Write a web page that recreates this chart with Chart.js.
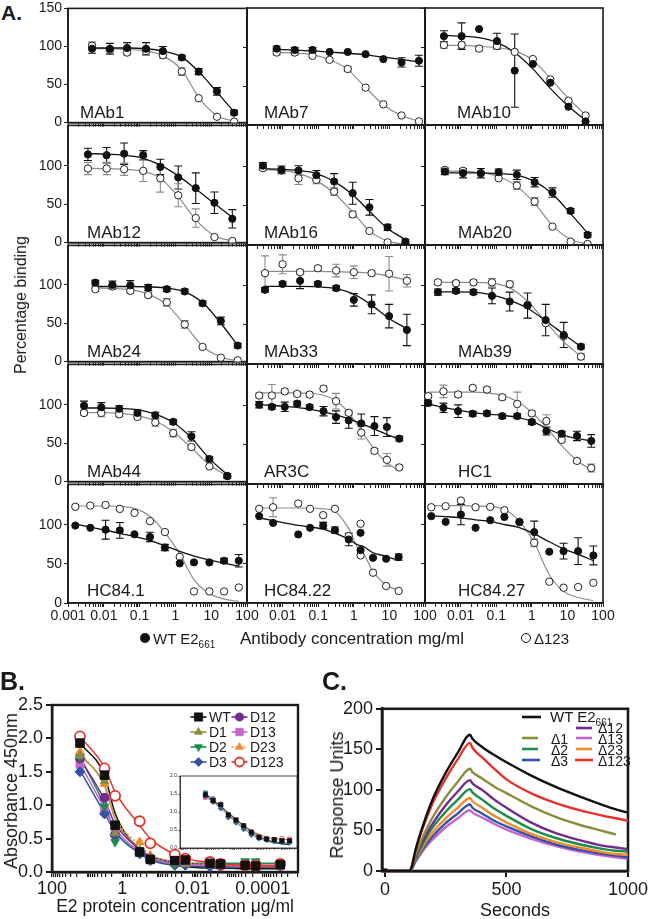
<!DOCTYPE html>
<html><head><meta charset="utf-8">
<script src="https://cdn.jsdelivr.net/npm/chart.js"></script>
<style>
html,body{margin:0;padding:0;background:#fff;}
body{width:650px;height:919px;position:relative;overflow:hidden;font-family:"Liberation Sans",Arial,Helvetica,sans-serif;color:#1a1a1a;}
canvas{position:absolute;}
.t{position:absolute;white-space:nowrap;}
.dot{position:absolute;border-radius:50%;box-sizing:border-box;}
</style></head><body>
<script>
// ================= PANEL A DATA (concentration mg/ml, % binding) =================
const aTickLabels = ['0.001','0.01','0.1','1','10','100'];
const aYTicks = [0, 50, 100, 150];
const panelNames = ['MAb1','MAb7','MAb10','MAb12','MAb16','MAb20','MAb24','MAb33','MAb39','MAb44','AR3C','HC1','HC84.1','HC84.22','HC84.27'];

const mab1Conc = [0.0047, 0.0148, 0.0447, 0.151, 0.447, 1.51, 4.47, 14.5, 43.7];
const mab1Wt = [97, 97, 98, 97, 94, 85.5, 67, 41, 13];
const mab1WtErr = [6, 7, 7, 8, 6, 3, 4, 5, 3];
const mab1D123 = [101, 96, 92, 94, 88.5, 67, 32, 7.7, 1.3];
const mab1D123Err = [5, 3, 3, 5, 4, 5, 0, 0, 0];
const mab1WtFit = [98, 98, 98, 97, 94, 86, 67, 40, 14];
const mab1D123Fit = [97, 97, 96, 94, 88, 69, 33, 9, 2];

const mab7Conc = [0.0068, 0.0219, 0.0692, 0.209, 0.676, 2.14, 6.76, 21.9, 67.6];
const mab7Wt = [97.9, 96.2, 96.2, 93.7, 93.7, 90.8, 84.5, 80.3, 82.4];
const mab7WtErr = [3, 3, 3, 0, 0, 0, 0, 6, 7];
const mab7D123 = [92.9, 92.9, 88.7, 83.6, 71.8, 47.9, 26.5, 12.2, 4.6];
const mab7D123Err = [3, 3, 0, 0, 3, 0, 0, 0, 0];
const mab7WtFit = [97, 96, 95, 93.5, 92, 90, 87, 84, 81];
const mab7D123Fit = [93, 92.5, 90, 84, 71, 48, 26, 12, 5];

const mab10Conc = [0.0034, 0.0107, 0.0331, 0.105, 0.331, 1.07, 3.31, 10.7, 32.4];
const mab10Wt = [113.9, 113.9, 123, 107.6, 69.7, 78.2, 54.2, 23.5, 4.6];
const mab10WtErr = [7, 17, 0, 10, 47, 0, 0, 0, 0];
const mab10D123 = [102.5, 102.5, 97.9, 101.3, 93.7, 84.5, 58.4, 31.1, 12.2];
const mab10D123Err = [4, 4, 3, 3, 0, 0, 0, 0, 0];
const mab10WtFit = [115, 114, 112, 106, 93, 72, 47, 24, 6];
const mab10D123Fit = [102, 102, 101, 99, 95, 83, 60, 34, 13];

const mab12Conc = [0.0036, 0.012, 0.037, 0.126, 0.38, 1.2, 3.7, 12.3, 38.9];
const mab12Wt = [115, 114, 116, 114, 98.7, 85, 71, 52, 31];
const mab12WtErr = [8, 10, 14, 6, 10, 15, 20, 14, 12];
const mab12D123 = [96.6, 96.6, 95.7, 93.6, 83.8, 61.7, 32, 7.2, 2.1];
const mab12D123Err = [8, 8, 8, 14, 18, 15, 12, 0, 0];
const mab12WtFit = [116, 115.5, 114, 110, 101, 87, 70, 51, 33];
const mab12D123Fit = [97, 96.5, 95.5, 93, 84, 60, 30, 9, 2];

const mab16Conc = [0.0028, 0.0093, 0.028, 0.089, 0.28, 0.93, 2.75, 8.9, 28.2];
const mab16Wt = [101, 95.7, 94.9, 89, 80.9, 66, 48, 22.5, 4.3];
const mab16WtErr = [4, 5, 6, 6, 10, 14, 10, 4, 3];
const mab16D123 = [97.9, 94.9, 85, 83, 68, 39, 17.9, 3.4, 1.3];
const mab16D123Err = [3, 3, 8, 5, 5, 4, 0, 0, 0];
const mab16WtFit = [97, 96.5, 95, 91, 81, 64, 43, 21, 7];
const mab16D123Fit = [96, 95, 91, 82, 66, 42, 18, 5, 1];

const mab20Conc = [0.0036, 0.0117, 0.037, 0.117, 0.38, 1.2, 3.8, 12.3, 37];
const mab20Wt = [93.6, 91.5, 91.5, 92.8, 89.4, 80, 66.8, 43.4, 12.8];
const mab20WtErr = [4, 6, 6, 4, 6, 6, 6, 3, 3];
const mab20D123 = [95.7, 94.5, 91.5, 85, 75.7, 55.3, 23.4, 4.3, 1.3];
const mab20D123Err = [3, 0, 0, 0, 5, 5, 0, 0, 0];
const mab20WtFit = [92, 92, 92, 91, 89, 81, 65, 40, 15];
const mab20D123Fit = [94, 94, 92, 87, 75, 53, 25, 7, 1];

const mab24Conc = [0.0058, 0.0174, 0.055, 0.174, 0.575, 1.82, 5.75, 18.6, 55];
const mab24Wt = [103, 100, 99.6, 96.6, 94.5, 91.5, 76, 53, 20.9];
const mab24WtErr = [3, 5, 6, 4, 3, 3, 3, 5, 3];
const mab24D123 = [94.5, 97.9, 92.3, 86.8, 77.4, 48.5, 19.1, 5.1, 1.7];
const mab24D123Err = [3, 3, 3, 3, 5, 5, 0, 0, 0];
const mab24WtFit = [98, 98, 98, 97.5, 96, 91, 77, 50, 21];
const mab24D123Fit = [96, 95.5, 94, 88, 74, 48, 20, 6, 1];

const mab33Conc = [0.0032, 0.01, 0.031, 0.098, 0.32, 1.0, 3.16, 9.8, 31];
const mab33Wt = [94.5, 102, 106, 102, 96.6, 81.7, 76, 61, 43.4];
const mab33WtErr = [3, 3, 10, 3, 3, 8, 12, 15, 20];
const mab33D123 = [115.7, 127, 117, 122, 119, 117, 115.7, 115, 106];
const mab33D123Err = [22, 12, 3, 3, 8, 8, 3, 22, 8];
const mab33WtFit = [99, 99, 99, 98.5, 96, 89, 75, 58, 45];
const mab33D123Fit = [118, 118, 118, 118, 117.5, 117, 115.5, 112, 107];

const mab39Conc = [0.0023, 0.0074, 0.023, 0.076, 0.24, 0.76, 2.45, 7.9, 24];
const mab39Wt = [91.5, 93.2, 91.5, 86.8, 79.6, 74.5, 56, 37, 22.1];
const mab39WtErr = [4, 3, 3, 10, 12, 16, 20, 16, 3];
const mab39D123 = [104, 103, 104, 104, 101.7, 75.3, 52, 35.7, 9.4];
const mab39D123Err = [3, 3, 3, 5, 4, 0, 0, 0, 4];
const mab39WtFit = [92, 92, 91.5, 88, 81, 71, 55, 38, 22];
const mab39D123Fit = [104, 104, 104, 103, 97, 80, 54, 28, 10];

const mab44Conc = [0.0028, 0.0085, 0.027, 0.087, 0.275, 0.87, 2.8, 8.9, 28.2];
const mab44Wt = [99, 97, 95, 89.5, 86.5, 78, 59, 29.5, 7.2];
const mab44WtErr = [6, 6, 4, 4, 4, 3, 6, 3, 3];
const mab44D123 = [89.5, 89.5, 87.8, 84.4, 77.2, 63.3, 45.1, 19.8, 7.2];
const mab44D123Err = [3, 5, 3, 3, 5, 5, 3, 0, 0];
const mab44WtFit = [96, 96, 95.5, 94, 88, 77, 57, 30, 9];
const mab44D123Fit = [90, 90, 89, 86, 79, 65, 44, 22, 7];

const ar3cConc = [0.0022, 0.005, 0.0115, 0.0257, 0.0575, 0.141, 0.316, 0.72, 1.62, 3.8, 8.5, 19];
const ar3cWt = [101, 98.3, 98.3, 102.5, 97.9, 92.8, 85.2, 81, 77.2, 73.8, 72.6, 57.8];
const ar3cWtErr = [4, 3, 6, 3, 3, 6, 8, 10, 12, 12, 12, 3];
const ar3cD123 = [112.7, 112.7, 118, 114.8, 113.9, 121.5, 105.5, 90.7, 65.4, 42.2, 30.8, 21.1];
const ar3cD123Err = [3, 14, 3, 3, 3, 3, 10, 3, 8, 3, 8, 3];
const ar3cWtFit = [101, 100, 99, 97.5, 95.5, 92, 88, 83, 77, 70, 63, 57];
const ar3cD123Fit = [116, 116, 116, 116, 115.5, 113, 106, 91, 68, 44, 27, 17];

const hc1Conc = [0.00123, 0.0033, 0.0085, 0.0219, 0.055, 0.148, 0.39, 1.0, 2.57, 6.9, 18.6, 46.8];
const hc1Wt = [103, 97, 92.8, 89.5, 89.9, 86.5, 86.5, 78.9, 67.5, 64.1, 61.2, 54.9];
const hc1WtErr = [3, 6, 8, 3, 3, 3, 3, 3, 5, 3, 6, 8];
const hc1D123 = [111.8, 118, 114, 122.4, 120.3, 110.5, 102, 89.9, 80.2, 56.1, 29.5, 20.3];
const hc1D123Err = [3, 8, 3, 3, 3, 3, 15, 3, 8, 3, 3, 5];
const hc1WtFit = [102, 97.5, 94, 91, 89, 87.5, 85, 80, 71, 63, 58, 55];
const hc1D123Fit = [117, 117, 117, 117, 116, 113, 105, 91, 72, 49, 30, 18];

const hc841Conc = [0.0016, 0.0042, 0.0112, 0.028, 0.072, 0.195, 0.51, 1.32, 3.3, 8.9, 22.9, 58.9];
const hc841Wt = [99, 96.2, 93.7, 92.8, 87.8, 84.4, 70.9, 50.6, 51.9, 51.9, 54, 54];
const hc841WtErr = [0, 0, 12, 10, 0, 6, 4, 0, 0, 0, 3, 8];
const hc841D123 = [123, 124.5, 125.3, 120.3, 115.2, 104.6, 90.7, 59, 14.8, 14.8, 14.8, 19.8];
const hc841D123Err = [0, 0, 0, 0, 0, 0, 0, 0, 0, 0, 0, 0];
const hc841WtFit = [101, 97, 93, 89, 85, 80, 73, 66, 60, 55, 51, 47];
const hc841D123Fit = [124, 124, 124, 123.5, 121, 111, 90, 63, 30, 12, 5, 2];

const hc8422Conc = [0.0022, 0.0054, 0.0275, 0.059, 0.138, 0.295, 0.72, 1.55, 1.55, 3.47, 8.1, 18.2];
const hc8422Wt = [110.6, 102, 87.3, 95.8, 98.7, 92.8, 80.9, 89.4, 67.4, 57.6, 56.4, 58.5];
const hc8422WtErr = [0, 0, 0, 0, 4, 4, 8, 0, 0, 0, 0, 4];
const hc8422D123 = [120, 122, 126.7, 120, 111.9, 120, 85.2, 101, 60.6, 38.6, 21.6, 15.3];
const hc8422D123Err = [0, 12, 0, 0, 0, 0, 0, 0, 0, 0, 0, 0];
const hc8422WtFit = [108.5, 105, 99, 97, 94, 89, 81, 73, 73, 64, 59.5, 54];
const hc8422D123Fit = [121, 121, 121, 121, 120, 117, 95, 66, 66, 40, 23, 16];

const hc8427Conc = [0.0015, 0.0038, 0.0102, 0.0263, 0.068, 0.17, 0.45, 1.17, 3.1, 7.8, 20, 53.7];
const hc8427Wt = [110.6, 103.4, 112.7, 95.8, 105.5, 109.7, 103, 90.3, 65.3, 66.1, 66.1, 60.6];
const hc8427WtErr = [0, 0, 13, 0, 0, 0, 0, 14, 0, 10, 17, 12];
const hc8427D123 = [122, 123.3, 130.5, 122, 122.5, 118.2, 103.4, 76.7, 27.1, 19.5, 20.3, 25.8];
const hc8427D123Err = [0, 0, 0, 0, 0, 0, 0, 5, 0, 0, 0, 0];
const hc8427WtFit = [111, 110, 108.5, 106, 104, 100, 96, 88, 78, 69, 62, 54];
const hc8427D123Fit = [124, 124, 124, 123.5, 123, 119, 104, 77, 36, 15, 7, 3];

// ================= PANEL B DATA (E2 protein µg/ml, absorbance 450nm) =================
const bTickLabels = ['0.0001', '0.01', '1', '100'];
const bSeriesNames = ['WT', 'D1', 'D2', 'D3', 'D12', 'D13', 'D23', 'D123'];
const bConc = [16, 3.2, 1.6, 0.32, 0.16, 0.032, 0.016, 0.0032, 0.0016, 0.00032, 0.00016, 0.000032];
const bWT   = [1.93, 1.45, 0.70, 0.30, 0.19, 0.17, 0.18, 0.13, 0.12, 0.10, 0.09, 0.11];
const bD1   = [1.74, 1.36, 0.58, 0.32, 0.22, 0.13, 0.12, 0.10, 0.11, 0.12, 0.11, 0.10];
const bD2   = [1.72, 0.98, 0.45, 0.28, 0.18, 0.12, 0.16, 0.16, 0.12, 0.16, 0.16, 0.12];
const bD3   = [1.50, 0.87, 0.56, 0.27, 0.17, 0.10, 0.10, 0.08, 0.08, 0.08, 0.08, 0.09];
const bD12  = [1.70, 1.11, 0.55, 0.30, 0.20, 0.25, 0.18, 0.12, 0.10, 0.10, 0.10, 0.10];
const bD13  = [1.61, 0.93, 0.60, 0.29, 0.18, 0.15, 0.13, 0.12, 0.10, 0.10, 0.09, 0.09];
const bD23  = [1.80, 1.32, 0.62, 0.45, 0.25, 0.14, 0.14, 0.13, 0.12, 0.10, 0.10, 0.10];
const bD123 = [2.03, 1.55, 1.14, 0.76, 0.43, 0.26, 0.20, 0.15, 0.12, 0.10, 0.10, 0.12];
const bWTFit   = [1.93, 1.45, 0.88, 0.32, 0.20, 0.10, 0.08, 0.06, 0.06, 0.05, 0.05, 0.05];
const bD1Fit   = [1.76, 1.30, 0.80, 0.35, 0.22, 0.12, 0.10, 0.08, 0.08, 0.07, 0.07, 0.07];
const bD2Fit   = [1.72, 1.00, 0.62, 0.28, 0.20, 0.14, 0.13, 0.13, 0.13, 0.13, 0.13, 0.13];
const bD3Fit   = [1.52, 0.88, 0.60, 0.28, 0.18, 0.10, 0.09, 0.08, 0.08, 0.08, 0.08, 0.08];
const bD12Fit  = [1.70, 1.08, 0.72, 0.34, 0.24, 0.15, 0.13, 0.11, 0.10, 0.10, 0.10, 0.10];
const bD13Fit  = [1.62, 0.95, 0.65, 0.30, 0.20, 0.12, 0.11, 0.10, 0.10, 0.09, 0.09, 0.09];
const bD23Fit  = [1.80, 1.28, 0.82, 0.40, 0.26, 0.15, 0.13, 0.11, 0.10, 0.10, 0.10, 0.10];
const bD123Fit = [2.03, 1.57, 1.20, 0.70, 0.50, 0.26, 0.20, 0.14, 0.12, 0.10, 0.09, 0.09];

// inset of panel B
const insetConc = [10, 5, 2.5, 1.25, 0.625, 0.3125, 0.156, 0.078, 0.039, 0.0195, 0.0098, 0.0049];
const insetWT   = [1.48, 1.32, 1.21, 0.92, 0.78, 0.62, 0.44, 0.30, 0.25, 0.23, 0.20, 0.20];
const insetD2   = [1.55, 1.35, 1.15, 0.88, 0.72, 0.55, 0.40, 0.30, 0.22, 0.20, 0.18, 0.18];
const insetD3   = [1.45, 1.28, 1.10, 0.85, 0.70, 0.52, 0.36, 0.26, 0.22, 0.18, 0.16, 0.15];
const insetD13  = [1.42, 1.38, 1.18, 0.90, 0.75, 0.58, 0.42, 0.30, 0.24, 0.20, 0.20, 0.22];
const insetD123 = [1.40, 1.30, 1.15, 0.86, 0.74, 0.60, 0.45, 0.32, 0.26, 0.24, 0.26, 0.25];
const insetWTFit   = [1.50, 1.33, 1.17, 0.98, 0.80, 0.62, 0.46, 0.33, 0.23, 0.16, 0.12, 0.09];
const insetD2Fit   = [1.52, 1.34, 1.15, 0.94, 0.75, 0.57, 0.42, 0.30, 0.22, 0.17, 0.14, 0.12];
const insetD3Fit   = [1.46, 1.28, 1.10, 0.90, 0.71, 0.53, 0.38, 0.27, 0.19, 0.14, 0.11, 0.09];
const insetD123Fit = [1.42, 1.29, 1.14, 0.96, 0.79, 0.63, 0.49, 0.38, 0.30, 0.26, 0.24, 0.23];

// ================= PANEL C DATA (seconds, response units) =================
const cTicksX = [0, 500, 1000];
const cTime = [0, 100, 110, 125, 150, 175, 200, 250, 300, 350, 360, 400, 450, 500, 600, 700, 800, 900, 950, 1000];
const cWT   = [0, 0, 5, 25, 50, 72, 91, 121, 146, 168, 163, 153, 143, 134, 118, 104, 92, 81, 76, 72];
const cD123 = [0, 0, 5, 24, 48, 68, 86, 114, 138, 158, 152, 140, 126, 113, 96, 84, 75, 68, 65, 62];
const cD1   = [0, 0, 4, 19, 38, 54, 68, 91, 110, 126, 122, 114, 104, 96, 80, 67, 57, 49, 45, null];
const cD12  = [0, 0, 3, 17, 34, 48, 60, 81, 98, 112, 108, 100, 88, 78, 60, 47, 38, 31, 29, 27];
const cD2   = [0, 0, 3, 15, 30, 44, 55, 73, 88, 101, 97, 88, 77, 68, 52, 41, 33, 27, 25, 24];
const cD23  = [0, 0, 3, 14, 27, 39, 49, 65, 78, 90, 86, 78, 68, 60, 46, 36, 29, 23, 21, 20];
const cD3   = [0, 0, 2, 12, 25, 35, 44, 59, 71, 82, 78, 71, 62, 55, 43, 33, 26, 21, 19, 17];
const cD13  = [0, 0, 2, 11, 22, 32, 40, 54, 65, 75, 72, 66, 58, 51, 40, 31, 24, 19, 17, 15];

// ================= helpers =================
const FONT = '"Liberation Sans", Arial, Helvetica, sans-serif';
Chart.defaults.font.family = FONT;
Chart.defaults.color = '#1a1a1a';
Chart.defaults.animation = false;

const COL = {black:'#111111', grey:'#8a8a8a', red:'#e5322b', olive:'#8d8b3e', purple:'#6f2b8e',
  green:'#1e8c4c', orange:'#f28c28', blue:'#3352a8', magenta:'#c466c8'};

function pts(xs, ys){ return xs.map((x,i)=>({x:x, y:ys[i]})); }
function makeCanvas(left, top, w, h){
  const c = document.createElement('canvas');
  c.width = w; c.height = h;
  c.style.left = left+'px'; c.style.top = top+'px'; c.style.width = w+'px'; c.style.height = h+'px';
  document.body.appendChild(c); return c;
}
function logTicks(e0, e1){
  const t = [];
  for (let e=e0; e<e1; e++) for (let k=1; k<10; k++) t.push({value: +(k*Math.pow(10,e)).toPrecision(6), major: k===1});
  t.push({value: Math.pow(10,e1), major: true});
  return t;
}
function txt(html, x, baseline, size, opt){
  opt = opt || {};
  const d = document.createElement('div');
  d.className = 't';
  d.style.fontSize = size+'px'; d.style.lineHeight = size+'px';
  if (opt.bold) d.style.fontWeight = 'bold';
  d.innerHTML = html;
  d.style.top = (baseline - 0.847*size)+'px';
  d.style.left = x+'px';
  if (opt.align === 'center') d.style.transform = 'translate(-50%,0)';
  document.body.appendChild(d); return d;
}
function rtxt(html, cx, cy, size){
  const d = document.createElement('div');
  d.className = 't';
  d.style.fontSize = size+'px'; d.style.lineHeight = size+'px';
  d.style.left = cx+'px'; d.style.top = cy+'px';
  d.style.transform = 'translate(-50%,-50%) rotate(-90deg)';
  d.innerHTML = html;
  document.body.appendChild(d); return d;
}
function drawMarker(ctx, style, x, y, r, fill, stroke, lw){
  ctx.save(); ctx.fillStyle = fill; ctx.strokeStyle = stroke; ctx.lineWidth = lw || 1;
  ctx.beginPath();
  if (style==='circle') ctx.arc(x, y, r, 0, Math.PI*2);
  else if (style==='rect') ctx.rect(x-r*0.75, y-r*0.75, r*1.5, r*1.5);
  else if (style==='triangle'){ ctx.moveTo(x, y-r); ctx.lineTo(x+r*0.87, y+r*0.5); ctx.lineTo(x-r*0.87, y+r*0.5); ctx.closePath(); }
  else if (style==='triangleDown'){ ctx.moveTo(x, y+r); ctx.lineTo(x+r*0.87, y-r*0.5); ctx.lineTo(x-r*0.87, y-r*0.5); ctx.closePath(); }
  else if (style==='diamond'){ ctx.moveTo(x, y-r); ctx.lineTo(x+r, y); ctx.lineTo(x, y+r); ctx.lineTo(x-r, y); ctx.closePath(); }
  ctx.fill(); if (lw) ctx.stroke(); ctx.restore();
}
const errPlugin = {
  id: 'errbars',
  beforeDatasetsDraw(chart){
    const ctx = chart.ctx, ys = chart.scales.y;
    chart.data.datasets.forEach((ds, i) => {
      if (!ds.err) return;
      const meta = chart.getDatasetMeta(i);
      ctx.save(); ctx.strokeStyle = ds.errColor; ctx.lineWidth = 1.1;
      meta.data.forEach((el, j) => {
        const e = ds.err[j]; if (!e) return;
        const v = ds.data[j].y;
        const y1 = ys.getPixelForValue(v+e), y2 = ys.getPixelForValue(v-e);
        ctx.beginPath();
        ctx.moveTo(el.x, y1); ctx.lineTo(el.x, y2);
        ctx.moveTo(el.x-4, y1); ctx.lineTo(el.x+4, y1);
        ctx.moveTo(el.x-4, y2); ctx.lineTo(el.x+4, y2);
        ctx.stroke();
      });
      ctx.restore();
    });
  }
};
function boxPlugin(w, bg){
  return {
    id: 'box',
    beforeDraw(chart){
      if (!bg) return;
      const a = chart.chartArea, ctx = chart.ctx;
      ctx.save(); ctx.fillStyle = bg; ctx.fillRect(a.left, a.top, a.right-a.left, a.bottom-a.top); ctx.restore();
    },
    beforeDatasetsDraw(chart){
      const a = chart.chartArea, ctx = chart.ctx;
      ctx.save(); ctx.strokeStyle = '#1a1a1a'; ctx.lineWidth = w;
      ctx.strokeRect(a.left, a.top, a.right-a.left, a.bottom-a.top); ctx.restore();
    }
  };
}

// ================= PANEL A =================
const colEdges = [68, 247, 425, 603];
const rowEdges = [8, 125, 245, 364, 484, 603];
const nameOffsets = [12,17,32, 19,17,33, 19,17,33, 19,17,33, 19,17,33];
const panelTable = [
  [mab1Conc, mab1Wt, mab1WtErr, mab1D123, mab1D123Err, mab1WtFit, mab1D123Fit],
  [mab7Conc, mab7Wt, mab7WtErr, mab7D123, mab7D123Err, mab7WtFit, mab7D123Fit],
  [mab10Conc, mab10Wt, mab10WtErr, mab10D123, mab10D123Err, mab10WtFit, mab10D123Fit],
  [mab12Conc, mab12Wt, mab12WtErr, mab12D123, mab12D123Err, mab12WtFit, mab12D123Fit],
  [mab16Conc, mab16Wt, mab16WtErr, mab16D123, mab16D123Err, mab16WtFit, mab16D123Fit],
  [mab20Conc, mab20Wt, mab20WtErr, mab20D123, mab20D123Err, mab20WtFit, mab20D123Fit],
  [mab24Conc, mab24Wt, mab24WtErr, mab24D123, mab24D123Err, mab24WtFit, mab24D123Fit],
  [mab33Conc, mab33Wt, mab33WtErr, mab33D123, mab33D123Err, mab33WtFit, mab33D123Fit],
  [mab39Conc, mab39Wt, mab39WtErr, mab39D123, mab39D123Err, mab39WtFit, mab39D123Fit],
  [mab44Conc, mab44Wt, mab44WtErr, mab44D123, mab44D123Err, mab44WtFit, mab44D123Fit],
  [ar3cConc, ar3cWt, ar3cWtErr, ar3cD123, ar3cD123Err, ar3cWtFit, ar3cD123Fit],
  [hc1Conc, hc1Wt, hc1WtErr, hc1D123, hc1D123Err, hc1WtFit, hc1D123Fit],
  [hc841Conc, hc841Wt, hc841WtErr, hc841D123, hc841D123Err, hc841WtFit, hc841D123Fit],
  [hc8422Conc, hc8422Wt, hc8422WtErr, hc8422D123, hc8422D123Err, hc8422WtFit, hc8422D123Fit],
  [hc8427Conc, hc8427Wt, hc8427WtErr, hc8427D123, hc8427D123Err, hc8427WtFit, hc8427D123Fit]
];

panelTable.forEach((p, idx) => {
  const r = Math.floor(idx/3), c = idx%3;
  const L = colEdges[c], R = colEdges[c+1], T = rowEdges[r], B = rowEdges[r+1];
  const padL = 42, padT = 10, padR = 16, padB = (r===4) ? 26 : 8;
  const W = R-L+padL+padR, H = B-T+padT+padB;
  const cv = makeCanvas(L-padL, T-padT, W, H);
  const ymax = r===0 ? 150 : (B-T)/0.785;
  const yTicks = aYTicks.filter(v => r===0 || v < 150);
  const [conc, wt, wtErr, d123, d123Err, wtFit, d123Fit] = p;
  new Chart(cv, {
    type: 'scatter',
    data: { datasets: [
      {label:'WT E2661', data: pts(conc, wt), err: wtErr, errColor: '#111', backgroundColor: '#111', borderColor: '#111', pointRadius: 3.6, pointBorderWidth: 1, order: 1},
      {label:'Δ123', data: pts(conc, d123), err: d123Err, errColor: '#8c8c8c', backgroundColor: '#fff', borderColor: '#222', pointRadius: 3.7, pointBorderWidth: 1, order: 2},
      {type:'line', label:'WT fit', data: pts(conc, wtFit), borderColor: '#111', borderWidth: 1.3, pointRadius: 0, cubicInterpolationMode: 'monotone', fill: false, order: 3},
      {type:'line', label:'Δ123 fit', data: pts(conc, d123Fit), borderColor: '#8c8c8c', borderWidth: 1.2, pointRadius: 0, cubicInterpolationMode: 'monotone', fill: false, order: 4}
    ]},
    options: {
      responsive: false, animation: false, devicePixelRatio: 1,
      layout: { padding: {left: 0, top: padT, right: padR, bottom: 0} },
      plugins: { legend: {display: false}, tooltip: {enabled: false} },
      scales: {
        x: {
          type: 'logarithmic', min: 0.001, max: 100,
          afterBuildTicks: s => { s.ticks = logTicks(-3, 2); },
          afterFit: s => { s.height = padB; },
          grid: { display: true, drawOnChartArea: false, drawTicks: true, tickLength: 4, color: '#222', lineWidth: 1 },
          border: { display: true, color: '#1a1a1a', width: 1.6 },
          ticks: { display: r===4, autoSkip: false, maxRotation: 0, minRotation: 0, padding: 1, color: '#1a1a1a', font: {size: 14},
            callback: (v) => { const e = Math.round(Math.log10(v)); if (Math.abs(v - Math.pow(10,e)) > 1e-9*Math.pow(10,e)) return ''; if (c>0 && e===-3) return ''; return aTickLabels[e+3]; } }
        },
        y: {
          min: 0, max: ymax,
          afterBuildTicks: s => { s.ticks = yTicks.map(v => ({value: v})); },
          afterFit: s => { s.width = padL; },
          grid: { display: true, drawOnChartArea: false, drawTicks: true, tickLength: 4, color: '#222', lineWidth: 1 },
          border: { display: true, color: '#1a1a1a', width: 1.6 },
          ticks: { display: c===0, padding: 2, color: '#1a1a1a', font: {size: 14}, callback: v => String(v) }
        }
      }
    },
    plugins: [boxPlugin(1.6), errPlugin]
  });
});

// ================= PANEL B =================
(function(){
  const cv = makeCanvas(0, 690, 320, 229);
  const st = [
    {n:'WT', d:bWT, f:bWTFit, col:COL.black, ps:'rect', r:6, bg:COL.black},
    {n:'D1', d:bD1, f:bD1Fit, col:COL.olive, ps:'triangle', r:5, bg:COL.olive},
    {n:'D2', d:bD2, f:bD2Fit, col:COL.green, ps:'triangle', r:5, bg:COL.green, rot:180},
    {n:'D3', d:bD3, f:bD3Fit, col:COL.blue, ps:'rectRot', r:5, bg:COL.blue},
    {n:'D12', d:bD12, f:bD12Fit, col:COL.purple, ps:'circle', r:4.5, bg:COL.purple},
    {n:'D13', d:bD13, f:bD13Fit, col:COL.magenta, ps:'rect', r:5.5, bg:COL.magenta},
    {n:'D23', d:bD23, f:bD23Fit, col:COL.orange, ps:'triangle', r:5, bg:COL.orange, dash:[2,2]},
    {n:'D123', d:bD123, f:bD123Fit, col:COL.red, ps:'circle', r:5, bg:'#fff', bw:1.8}
  ];
  const ptsOrder = [0, 7, 1, 2, 3, 4, 5, 6];
  const datasets = [];
  ptsOrder.forEach((k, i) => {
    const s = st[k];
    datasets.push({label: bSeriesNames[k], data: pts(bConc, s.d), pointStyle: s.ps, pointRadius: s.r, pointRotation: s.rot || 0,
      backgroundColor: s.bg, borderColor: s.col, pointBorderWidth: s.bw || 1, order: i});
  });
  st.forEach((s, k) => {
    datasets.push({type:'line', label: bSeriesNames[k]+' fit', data: pts(bConc, s.f), borderColor: s.col, borderWidth: 1.5,
      borderDash: s.dash || [], pointRadius: 0, cubicInterpolationMode: 'monotone', fill: false, order: 20 - k});
  });
  const legendPlugin = {
    id: 'blegend',
    afterDraw(chart){
      const ctx = chart.ctx, oy = 690;
      const rows = [717, 732, 747, 762];
      st.forEach((s, k) => {
        const col = Math.floor(k/4), row = k%4;
        const cx = col===0 ? 198.5 : 239.5, y = rows[row] - oy;
        ctx.save(); ctx.strokeStyle = s.col; ctx.lineWidth = 1.6; ctx.setLineDash(s.dash || []);
        ctx.beginPath(); ctx.moveTo(cx-8, y); ctx.lineTo(cx+8, y); ctx.stroke(); ctx.restore();
        const style = s.ps==='rectRot' ? 'diamond' : (s.rot ? 'triangleDown' : s.ps);
        drawMarker(ctx, style, cx, y, s.ps==='rect' && k===0 ? 5.5 : s.r*0.9, s.bg, s.col, s.bw || 0.8);
      });
    }
  };
  new Chart(cv, {
    type: 'scatter',
    data: { datasets },
    options: {
      responsive: false, animation: false, devicePixelRatio: 1,
      layout: { padding: {left: 0, top: 15, right: 22, bottom: 0} },
      plugins: { legend: {display: false}, tooltip: {enabled: false} },
      scales: {
        x: {
          type: 'logarithmic', min: 0.00001, max: 100, reverse: true,
          afterBuildTicks: s => { s.ticks = logTicks(-5, 2); },
          afterFit: s => { s.height = 47; },
          grid: { display: true, drawOnChartArea: false, drawTicks: true, tickLength: 5, color: '#1a1a1a', lineWidth: 1.2 },
          border: { display: true, color: '#1a1a1a', width: 2.4 },
          ticks: { autoSkip: false, maxRotation: 0, minRotation: 0, padding: 1, color: '#1a1a1a', font: {size: 18},
            callback: (v) => { const e = Math.round(Math.log10(v)); if (Math.abs(v - Math.pow(10,e)) > 1e-9*Math.pow(10,e)) return ''; const i = [-4,-2,0,2].indexOf(e); return i<0 ? '' : bTickLabels[i]; } }
        },
        y: {
          min: 0, max: 2.5,
          ticks: { stepSize: 0.5, padding: 3, color: '#1a1a1a', font: {size: 18}, callback: v => v.toFixed(1) },
          afterFit: s => { s.width = 52; },
          grid: { display: true, drawOnChartArea: false, drawTicks: true, tickLength: 6, color: '#1a1a1a', lineWidth: 2 },
          border: { display: true, color: '#1a1a1a', width: 2.4 }
        }
      }
    },
    plugins: [boxPlugin(2.4), legendPlugin]
  });

  // inset
  const cv2 = makeCanvas(150, 766, 155, 92);
  const ist = [
    {d:insetWT, f:insetWTFit, col:COL.black, ps:'rect', r:3},
    {d:insetD2, f:insetD2Fit, col:COL.green, ps:'triangle', r:2.5, rot:180},
    {d:insetD3, f:insetD3Fit, col:COL.blue, ps:'rectRot', r:2.5},
    {d:insetD13, f:insetD3Fit, col:COL.magenta, ps:'rect', r:2.5},
    {d:insetD123, f:insetD123Fit, col:COL.red, ps:'circle', r:2.2}
  ];
  const ids = [];
  ist.forEach((s, k) => {
    ids.push({data: pts(insetConc, s.d), pointStyle: s.ps, pointRadius: s.r, pointRotation: s.rot || 0,
      backgroundColor: k===4 ? '#fff' : s.col, borderColor: s.col, pointBorderWidth: 0.8, order: k});
  });
  [0,1,2,4].forEach((k, j) => {
    const s = ist[k];
    ids.push({type:'line', data: pts(insetConc, s.f), borderColor: s.col, borderWidth: 0.8, pointRadius: 0, cubicInterpolationMode: 'monotone', fill: false, order: 10 + j});
  });
  new Chart(cv2, {
    type: 'scatter',
    data: { datasets: ids },
    options: {
      responsive: false, animation: false, devicePixelRatio: 1,
      layout: { padding: {left: 0, top: 10, right: 8, bottom: 0} },
      plugins: { legend: {display: false}, tooltip: {enabled: false} },
      scales: {
        x: { type: 'logarithmic', min: 0.0025, max: 100, reverse: true,
          afterBuildTicks: s => { s.ticks = logTicks(-3, 2).filter(t => t.value >= 0.0025); },
          afterFit: s => { s.height = 10; },
          grid: { display: true, drawOnChartArea: false, tickLength: 2, color: '#333', lineWidth: 0.6 },
          border: { display: true, color: '#222', width: 0.8 },
          ticks: { display: false }
        },
        y: { min: 0, max: 2.0,
          ticks: { stepSize: 0.5, padding: 1, font: {size: 5}, color: '#222', callback: v => v.toFixed(1) },
          afterFit: s => { s.width = 30; },
          grid: { display: true, drawOnChartArea: false, tickLength: 2, color: '#333', lineWidth: 0.6 },
          border: { display: true, color: '#222', width: 0.8 }
        }
      }
    },
    plugins: [boxPlugin(0.8, '#ffffff')]
  });
})();

// ================= PANEL C =================
(function(){
  const cv = makeCanvas(320, 695, 330, 224);
  const series = [
    {n:'WT E2661', d:cWT, col:COL.black},
    {n:'Δ123', d:cD123, col:COL.red},
    {n:'Δ1', d:cD1, col:COL.olive},
    {n:'Δ12', d:cD12, col:COL.purple},
    {n:'Δ2', d:cD2, col:COL.green},
    {n:'Δ23', d:cD23, col:COL.orange},
    {n:'Δ3', d:cD3, col:COL.blue},
    {n:'Δ13', d:cD13, col:COL.magenta}
  ];
  const ds = series.map((s, k) => ({type:'line', label: s.n, data: pts(cTime, s.d), borderColor: s.col, borderWidth: 2.4,
    pointRadius: 0, cubicInterpolationMode: 'monotone', fill: false, spanGaps: false, order: k + 1}));
  ds.push({label:'start', data: pts([cTime[0]], [cWT[0]]), pointStyle: 'rect', pointRadius: 3, backgroundColor: '#111', borderColor: '#111', order: 0});
  const legend = [
    {col:COL.black, x1:522, x2:541, y:717},
    {col:COL.purple, x1:576, x2:592, y:728},
    {col:COL.olive, x1:522, x2:538, y:738},
    {col:COL.magenta, x1:576, x2:592, y:738},
    {col:COL.green, x1:522, x2:538, y:749},
    {col:COL.orange, x1:576, x2:592, y:749},
    {col:COL.blue, x1:522, x2:540, y:760},
    {col:COL.red, x1:575, x2:593, y:760}
  ];
  const legPlugin = {
    id: 'clegend',
    afterDraw(chart){
      const ctx = chart.ctx;
      legend.forEach(l => {
        ctx.save(); ctx.strokeStyle = l.col; ctx.lineWidth = 2.6;
        ctx.beginPath(); ctx.moveTo(l.x1-320, l.y-695); ctx.lineTo(l.x2-320, l.y-695); ctx.stroke(); ctx.restore();
      });
    }
  };
  new Chart(cv, {
    type: 'scatter',
    data: { datasets: ds },
    options: {
      responsive: false, animation: false, devicePixelRatio: 1,
      layout: { padding: {left: 0, top: 12, right: 18, bottom: 0} },
      plugins: { legend: {display: false}, tooltip: {enabled: false} },
      scales: {
        x: { type: 'linear', min: -12, max: 1000,
          afterBuildTicks: s => { s.ticks = cTicksX.map(v => ({value: v})); },
          afterFit: s => { s.height = 48; },
          grid: { display: true, drawOnChartArea: false, tickLength: 6, color: '#1a1a1a', lineWidth: 2 },
          border: { display: true, color: '#1a1a1a', width: 2.6 },
          ticks: { autoSkip: false, maxRotation: 0, padding: 2, font: {size: 18}, color: '#1a1a1a', callback: v => String(v) }
        },
        y: { min: 0, max: 200,
          ticks: { stepSize: 50, padding: 3, font: {size: 18}, color: '#1a1a1a', callback: v => String(v) },
          afterFit: s => { s.width = 62; },
          grid: { display: true, drawOnChartArea: false, tickLength: 6, color: '#1a1a1a', lineWidth: 2 },
          border: { display: true, color: '#1a1a1a', width: 2.6 }
        }
      }
    },
    plugins: [boxPlugin(2.6), legPlugin]
  });
})();

// ================= TEXT =================
txt('A.', 1, 20, 21, {bold: true});
txt('B.', 0, 690, 25, {bold: true});
txt('C.', 322, 690, 25, {bold: true});
rtxt('Percentage binding', 21, 305, 16);
panelNames.forEach((n, idx) => {
  const r = Math.floor(idx/3), c = idx%3;
  txt(n, colEdges[c] + nameOffsets[idx], rowEdges[r+1] - 7, 17);
});
// Panel A legend row
(function(){
  const d1 = document.createElement('div'); d1.className = 'dot';
  Object.assign(d1.style, {left: '140px', top: '633px', width: '10px', height: '10px', background: '#111'});
  document.body.appendChild(d1);
  txt('WT E2<span style="font-size:10px;position:relative;top:4px;">661</span>', 153, 644, 15);
  txt('Antibody concentration mg/ml', 240, 644, 17);
  const d2 = document.createElement('div'); d2.className = 'dot';
  Object.assign(d2.style, {left: '521px', top: '633px', width: '10px', height: '10px', border: '1.3px solid #111', background: '#fff'});
  document.body.appendChild(d2);
  txt('Δ123', 534, 644, 15);
})();
// Panel B texts
rtxt('Absorbance 450nm', 11, 791, 18);
txt('E2 protein concentration μg/ml', 175, 913, 17.5, {align: 'center'});
(function(){
  const xs = [209, 209, 209, 209, 250, 250, 250, 250];
  const ys = [722, 737, 752, 767, 722, 737, 752, 767];
  bSeriesNames.forEach((n, k) => txt(n, xs[k], ys[k], 14));
})();
// Panel C texts
rtxt('Response Units', 337, 795, 18);
txt('Seconds', 515, 916, 18, {align: 'center'});
txt('WT E2<span style="font-size:10px;position:relative;top:4px;">661</span>', 550, 722, 15);
txt('Δ12', 598, 733, 14);
txt('Δ1', 551, 744, 14);
txt('Δ13', 598, 744, 14);
txt('Δ2', 551, 755, 14);
txt('Δ23', 598, 755, 14);
txt('Δ3', 551, 766, 14);
txt('Δ123', 598, 766, 14);
</script>
</body></html>
